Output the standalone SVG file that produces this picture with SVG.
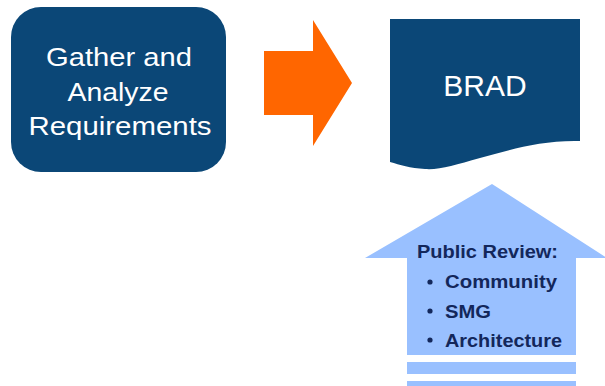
<svg xmlns="http://www.w3.org/2000/svg" width="605" height="386" viewBox="0 0 605 386">
<style>
.dark{fill:#0B4777}
.lite{fill:#99C0FF}
.wt{fill:#FFFFFF;font-family:"Liberation Sans",Arial,sans-serif;text-anchor:middle}
.nv{fill:#13275B;font-family:"Liberation Sans",Arial,sans-serif;font-weight:bold;font-size:19px}
</style>
<rect width="605" height="386" fill="#FFFFFF"/>
<g id="gather">
<rect class="dark" x="11" y="7" width="215" height="165" rx="30" ry="30"/>
<text class="wt" font-size="26" x="119" y="66" textLength="146" lengthAdjust="spacingAndGlyphs">Gather and</text>
<text class="wt" font-size="26" x="118" y="101" textLength="101" lengthAdjust="spacingAndGlyphs">Analyze</text>
<text class="wt" font-size="26" x="120" y="135" textLength="183" lengthAdjust="spacingAndGlyphs">Requirements</text>
</g>
<g id="connectors">
<polygon id="arrow-orange" fill="#FF6600" points="264,51 313,51 313,20 352,83 313,146 313,115 264,115"/>
</g>
<g id="brad">
<path class="dark" d="M390,19 H580 V141 C540,140 510,150 480,158 C455,165 440,170 425,169 C410,168 400,165 390,162 Z"/>
<text class="wt" font-size="30" x="485" y="96">BRAD</text>
</g>
<g id="review">
<polygon class="lite" points="492,184 607,258 576,258 576,355 407,355 407,258 365,258"/>
<rect class="lite" x="407" y="362" width="169" height="12"/>
<rect class="lite" x="407" y="381" width="169" height="6"/>
<text class="nv" x="417" y="258" textLength="141" lengthAdjust="spacingAndGlyphs">Public Review:</text>
<circle cx="430" cy="282" r="2.6" fill="#13275B"/>
<text class="nv" x="445" y="288" textLength="112" lengthAdjust="spacingAndGlyphs">Community</text>
<circle cx="430" cy="311" r="2.6" fill="#13275B"/>
<text class="nv" x="445" y="318" textLength="46" lengthAdjust="spacingAndGlyphs">SMG</text>
<circle cx="430" cy="340" r="2.6" fill="#13275B"/>
<text class="nv" x="445" y="347" textLength="117" lengthAdjust="spacingAndGlyphs">Architecture</text>
</g>
</svg>
